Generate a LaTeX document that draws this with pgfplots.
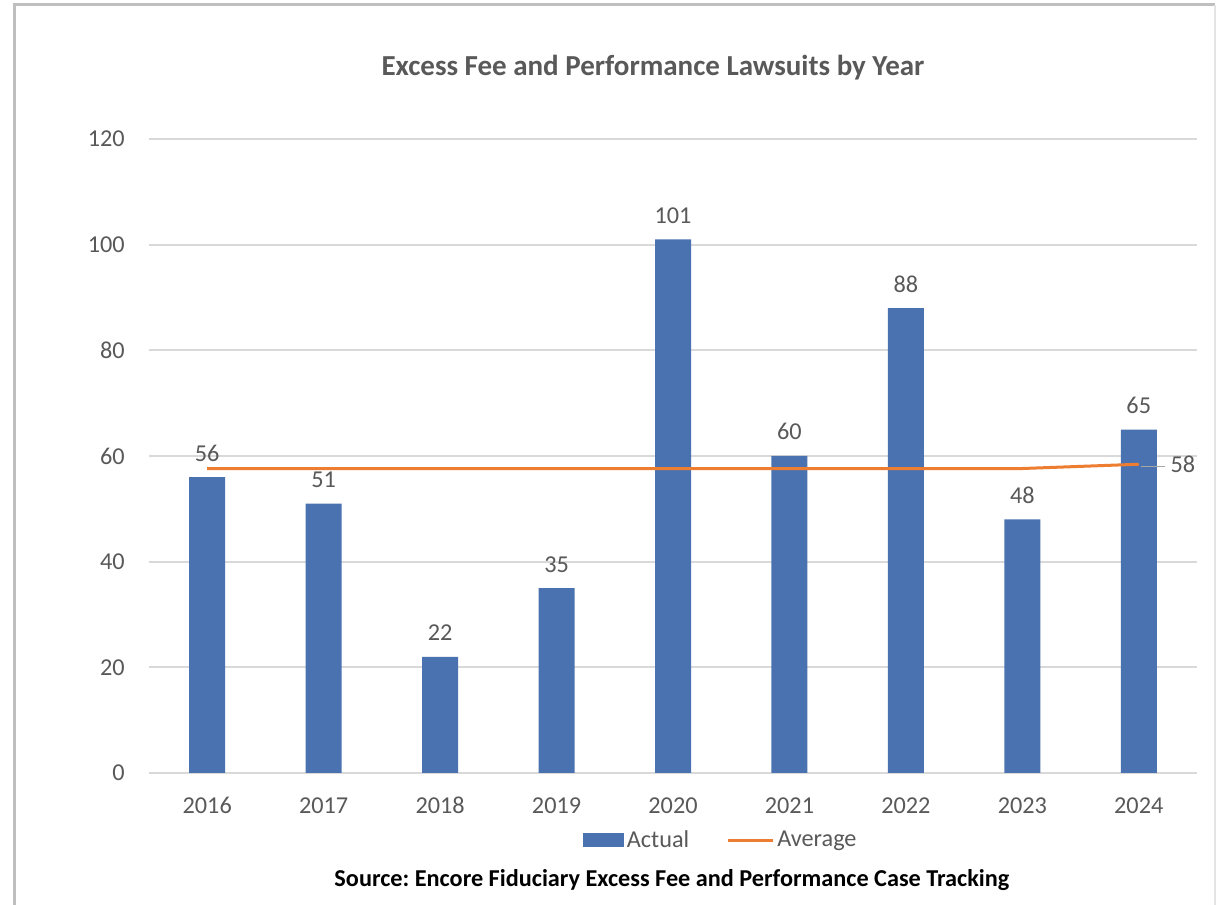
\documentclass[border=0pt]{standalone}
\usepackage{pgfplots}
\pgfplotsset{compat=1.18}
\usepackage{pgfplotstable}
\usepackage{fontspec}
\setmainfont{Carlito}
\definecolor{barblue}{HTML}{4A72B0}
\definecolor{avgorange}{HTML}{ED7D31}
\definecolor{textgray}{HTML}{595959}
\definecolor{gridgray}{HTML}{D9D9D9}
\definecolor{framegray}{HTML}{BFBFBF}
\definecolor{leadergray}{HTML}{A6A6A6}
\newcommand{\lbl}{\fontsize{13.8}{16}\selectfont}
\newcommand{\ttl}{\fontsize{16.5}{19}\selectfont\bfseries}

\pgfplotstableread{
x actual avg
0 56 57.63
1 51 57.63
2 22 57.63
3 35 57.63
4 101 57.63
5 60 57.63
6 88 57.63
7 48 57.63
8 65 58.44
}\datatable

\begin{document}
\frenchspacing
\begin{tikzpicture}
\useasboundingbox (0mm,0mm) rectangle (245.6mm,181mm);
\fill[white] (0mm,0mm) rectangle (245.6mm,181mm);
\draw[framegray, line width=0.6mm] (2.8mm,-1mm) -- (2.8mm,180mm) -- (243mm,180mm);
\draw[gridgray!70, line width=0.3mm] (243mm,180mm) -- (243mm,0mm);
\node[text=textgray, font=\ttl] at (130.6mm,167.4mm) {Excess Fee and Performance Lawsuits by Year};
\node[text=black, font=\lbl\bfseries] at (134.4mm,5mm) {Source: Encore Fiduciary Excess Fee and Performance Case Tracking};
\begin{axis}[
  at={(29.8mm,26.4mm)}, anchor=south west,
  scale only axis, width=209.6mm, height=126.8mm,
  xmin=-0.5, xmax=8.5, ymin=0, ymax=120,
  xtick={0,1,2,3,4,5,6,7,8},
  xticklabels={2016,2017,2018,2019,2020,2021,2022,2023,2024},
  ytick={0,20,40,60,80,100,120},
  axis line style={draw=none},
  tick style={draw=none},
  ymajorgrids, grid style={gridgray, line width=0.4mm},
  /pgf/number format/assume math mode=true,
  ticklabel style={font=\lbl, text=textgray, inner sep=0pt},
  yticklabel style={xshift=-4.8mm},
  xticklabel style={yshift=-4.8mm},
  legend style={at={(0.546,-0.106)}, anchor=center, draw=none, fill=none,
    inner sep=0pt, legend columns=2,
    nodes={inner sep=0.5mm, text=textgray, font=\lbl},
    /tikz/every even column/.append style={column sep=7.0mm}},
]
\addplot[ybar, bar width=7.2mm, fill=barblue, draw=none,
  nodes near coords,
  nodes near coords style={anchor=south, inner sep=0pt, yshift=3.1mm, font=\lbl, text=textgray},
  legend image code/.code={\fill[barblue] (0mm,-1.4mm) rectangle (8.2mm,1.4mm);}]
  table[x=x, y=actual] {\datatable};
\addlegendentry{Actual}
\addplot[avgorange, line width=0.6mm, mark=none,
  legend image code/.code={\draw[avgorange, line width=0.6mm] (0mm,0mm) -- (9mm,0mm);}]
  table[x=x, y=avg] {\datatable};
\addlegendentry{Average}
\addplot[draw=none, mark=none, forget plot,
  nodes near coords={\textcolor{leadergray}{\rule[0.45ex]{4.8mm}{0.3mm}}\hspace{1.2mm}58},
  nodes near coords style={anchor=west, inner sep=0pt, xshift=0.3mm, font=\lbl, text=textgray}]
  coordinates {(8,58.44)};
\end{axis}
\end{tikzpicture}
\end{document}
